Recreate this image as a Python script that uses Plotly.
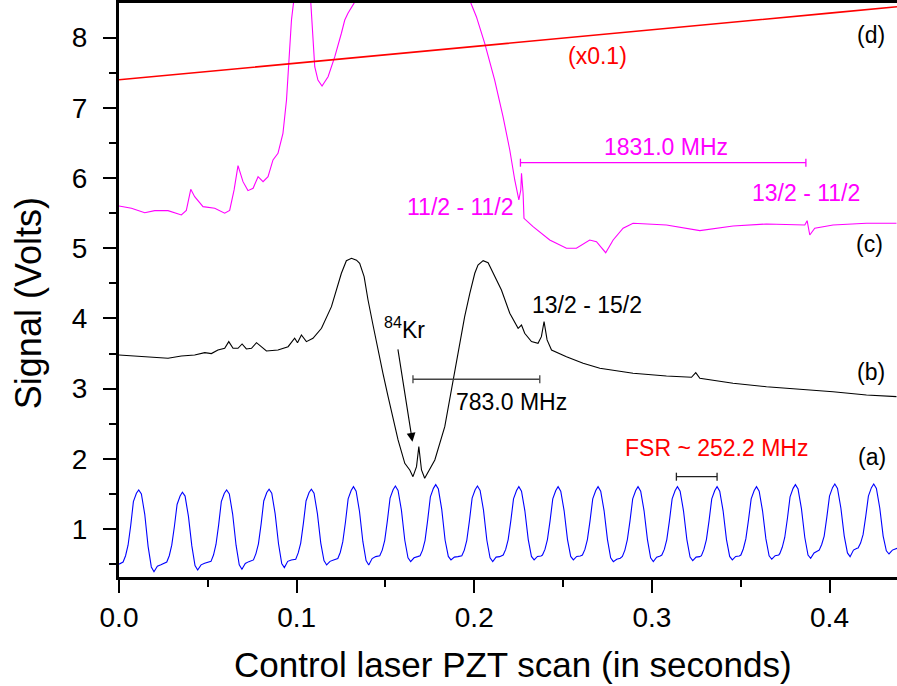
import plotly.graph_objects as go

# ---------------- data ----------------
# (a) cavity transmission fringes (blue), one row per fringe
a_t = [0.0000,
       0.0023, 0.0037, 0.0051, 0.0066, 0.0081, 0.0098, 0.0111, 0.0126, 0.0145, 0.0164, 0.0182, 0.0197, 0.0216, 0.0236,
       0.0269, 0.0283, 0.0297, 0.0312, 0.0327, 0.0344, 0.0357, 0.0372, 0.0391, 0.0410, 0.0428, 0.0443, 0.0462, 0.0482,
       0.0518, 0.0532, 0.0546, 0.0561, 0.0576, 0.0593, 0.0606, 0.0621, 0.0640, 0.0659, 0.0677, 0.0692, 0.0711, 0.0731,
       0.0757, 0.0771, 0.0785, 0.0800, 0.0815, 0.0832, 0.0845, 0.0860, 0.0879, 0.0898, 0.0916, 0.0931, 0.0950, 0.0970,
       0.0995, 0.1009, 0.1023, 0.1038, 0.1053, 0.1070, 0.1083, 0.1098, 0.1117, 0.1136, 0.1154, 0.1169, 0.1188, 0.1208,
       0.1232, 0.1246, 0.1260, 0.1275, 0.1290, 0.1307, 0.1320, 0.1335, 0.1354, 0.1373, 0.1391, 0.1406, 0.1425, 0.1445,
       0.1468, 0.1482, 0.1496, 0.1511, 0.1526, 0.1543, 0.1556, 0.1571, 0.1590, 0.1609, 0.1627, 0.1642, 0.1661, 0.1681,
       0.1695, 0.1709, 0.1723, 0.1738, 0.1753, 0.1770, 0.1783, 0.1798, 0.1817, 0.1836, 0.1854, 0.1869, 0.1888, 0.1908,
       0.1930, 0.1944, 0.1958, 0.1973, 0.1988, 0.2005, 0.2018, 0.2033, 0.2052, 0.2071, 0.2089, 0.2104, 0.2123, 0.2143,
       0.2163, 0.2177, 0.2191, 0.2206, 0.2221, 0.2238, 0.2251, 0.2266, 0.2285, 0.2304, 0.2322, 0.2337, 0.2356, 0.2376,
       0.2384, 0.2398, 0.2412, 0.2427, 0.2442, 0.2459, 0.2472, 0.2487, 0.2506, 0.2525, 0.2543, 0.2558, 0.2577, 0.2597,
       0.2609, 0.2623, 0.2637, 0.2652, 0.2667, 0.2684, 0.2697, 0.2712, 0.2731, 0.2750, 0.2768, 0.2783, 0.2802, 0.2822,
       0.2834, 0.2848, 0.2862, 0.2877, 0.2892, 0.2909, 0.2922, 0.2937, 0.2956, 0.2975, 0.2993, 0.3008, 0.3027, 0.3047,
       0.3056, 0.3070, 0.3084, 0.3099, 0.3114, 0.3131, 0.3144, 0.3159, 0.3178, 0.3197, 0.3215, 0.3230, 0.3249, 0.3269,
       0.3279, 0.3293, 0.3307, 0.3322, 0.3337, 0.3354, 0.3367, 0.3382, 0.3401, 0.3420, 0.3438, 0.3453, 0.3472, 0.3492,
       0.3501, 0.3515, 0.3529, 0.3544, 0.3559, 0.3576, 0.3589, 0.3604, 0.3623, 0.3642, 0.3660, 0.3675, 0.3694, 0.3714,
       0.3720, 0.3734, 0.3748, 0.3763, 0.3778, 0.3795, 0.3808, 0.3823, 0.3842, 0.3861, 0.3879, 0.3894, 0.3913, 0.3933,
       0.3942, 0.3956, 0.3970, 0.3985, 0.4000, 0.4017, 0.4030, 0.4045, 0.4064, 0.4083, 0.4101, 0.4116, 0.4135, 0.4155,
       0.4161, 0.4175, 0.4189, 0.4204, 0.4219, 0.4236, 0.4249, 0.4264, 0.4283, 0.4302, 0.4320, 0.4335, 0.4354, 0.4380]
a_v = [0.50,
       0.53, 0.62, 0.77, 1.05, 1.39, 1.51, 1.557, 1.50, 1.21, 0.75, 0.46, 0.393, 0.47, 0.49,
       0.53, 0.62, 0.77, 1.04, 1.35, 1.47, 1.524, 1.47, 1.18, 0.76, 0.48, 0.417, 0.49, 0.513,
       0.54, 0.63, 0.78, 1.06, 1.39, 1.51, 1.557, 1.50, 1.21, 0.77, 0.49, 0.427, 0.51, 0.536,
       0.56, 0.65, 0.79, 1.07, 1.40, 1.52, 1.567, 1.51, 1.22, 0.79, 0.51, 0.451, 0.54, 0.56,
       0.57, 0.66, 0.80, 1.08, 1.40, 1.52, 1.567, 1.51, 1.22, 0.80, 0.55, 0.489, 0.54, 0.56,
       0.58, 0.67, 0.82, 1.10, 1.43, 1.55, 1.604, 1.54, 1.25, 0.82, 0.55, 0.489, 0.58, 0.607,
       0.62, 0.70, 0.84, 1.12, 1.44, 1.56, 1.614, 1.55, 1.27, 0.84, 0.59, 0.536, 0.59, 0.607,
       0.62, 0.70, 0.84, 1.13, 1.46, 1.58, 1.633, 1.57, 1.28, 0.84, 0.61, 0.56, 0.60, 0.607,
       0.62, 0.70, 0.84, 1.12, 1.44, 1.56, 1.614, 1.55, 1.27, 0.84, 0.59, 0.536, 0.60, 0.607,
       0.63, 0.71, 0.85, 1.12, 1.43, 1.55, 1.604, 1.54, 1.26, 0.85, 0.61, 0.56, 0.61, 0.617,
       0.63, 0.71, 0.85, 1.12, 1.43, 1.55, 1.604, 1.54, 1.26, 0.85, 0.61, 0.56, 0.61, 0.617,
       0.63, 0.71, 0.85, 1.12, 1.43, 1.55, 1.604, 1.54, 1.26, 0.85, 0.59, 0.536, 0.57, 0.584,
       0.61, 0.70, 0.85, 1.12, 1.43, 1.55, 1.604, 1.54, 1.26, 0.85, 0.59, 0.536, 0.60, 0.617,
       0.63, 0.71, 0.85, 1.12, 1.43, 1.55, 1.604, 1.54, 1.26, 0.85, 0.60, 0.55, 0.60, 0.607,
       0.62, 0.71, 0.85, 1.12, 1.43, 1.55, 1.604, 1.54, 1.26, 0.85, 0.61, 0.56, 0.61, 0.617,
       0.63, 0.72, 0.86, 1.13, 1.43, 1.55, 1.604, 1.54, 1.26, 0.86, 0.62, 0.57, 0.62, 0.631,
       0.65, 0.74, 0.88, 1.15, 1.46, 1.58, 1.633, 1.57, 1.29, 0.88, 0.63, 0.584, 0.66, 0.688,
       0.70, 0.78, 0.90, 1.17, 1.47, 1.59, 1.642, 1.58, 1.30, 0.90, 0.66, 0.607, 0.70, 0.726,
       0.73, 0.80, 0.92, 1.18, 1.47, 1.59, 1.642, 1.58, 1.30, 0.90, 0.69, 0.645, 0.70, 0.726]

# (b) saturated absorption signal (black)
b_t = [0.0000, 0.0163, 0.0276, 0.0351, 0.0426, 0.0483, 0.0520, 0.0557, 0.0595, 0.0618,
       0.0642, 0.0670, 0.0693, 0.0717, 0.0746, 0.0774, 0.0802, 0.0830, 0.0895, 0.0952,
       0.0989, 0.1005, 0.1027, 0.1055, 0.1092, 0.1140, 0.1196, 0.1224, 0.1252, 0.1280,
       0.1309, 0.1337, 0.1355, 0.1380, 0.1402, 0.1430, 0.1458, 0.1486, 0.1515, 0.1543,
       0.1571, 0.1609, 0.1637, 0.1655, 0.1675, 0.1688, 0.1703, 0.1721, 0.1749, 0.1778,
       0.1834, 0.1890, 0.1918, 0.1946, 0.1975, 0.2003, 0.2021, 0.2050, 0.2078, 0.2115,
       0.2153, 0.2200, 0.2247, 0.2266, 0.2284, 0.2322, 0.2359, 0.2378, 0.2393, 0.2410,
       0.2435, 0.2519, 0.2613, 0.2707, 0.2894, 0.3082, 0.3223, 0.3247, 0.3270, 0.3457,
       0.3645, 0.3833, 0.4020, 0.4208, 0.4377]
b_v = [3.48, 3.456, 3.433, 3.466, 3.48, 3.513, 3.50, 3.551, 3.575, 3.670,
       3.575, 3.575, 3.637, 3.566, 3.575, 3.655, 3.59, 3.537, 3.551, 3.598,
       3.718, 3.655, 3.765, 3.67, 3.718, 3.86, 4.168, 4.406, 4.644, 4.823,
       4.857, 4.83, 4.786, 4.595, 4.263, 3.907, 3.551, 3.219, 2.886, 2.554,
       2.269, 1.937, 1.842, 1.746, 1.889, 2.174, 1.842, 1.723, 1.842, 1.984,
       2.459, 3.219, 3.646, 4.026, 4.358, 4.644, 4.762, 4.823, 4.795, 4.595,
       4.406, 4.074, 3.86, 3.907, 3.789, 3.67, 3.646, 3.741, 3.954, 3.694,
       3.551, 3.456, 3.362, 3.291, 3.219, 3.181, 3.162, 3.228, 3.148, 3.077,
       3.028, 2.991, 2.957, 2.91, 2.886]

# (c) signal (magenta); values above 8.5 run off the top of the frame
c_t = [0.0000, 0.0070, 0.0145, 0.0201, 0.0276, 0.0351, 0.0379, 0.0404, 0.0426, 0.0473,
       0.0539, 0.0595, 0.0623, 0.0648, 0.0670, 0.0698, 0.0726, 0.0755, 0.0783, 0.0811,
       0.0839, 0.0867, 0.0895, 0.0923, 0.0943, 0.0956, 0.0971, 0.0984, 0.1030, 0.1079,
       0.1089, 0.1102, 0.1120, 0.1143, 0.1177, 0.1215, 0.1252, 0.1271, 0.1289, 0.1323,
       0.1400, 0.1650, 0.1900, 0.1975, 0.2012, 0.2059, 0.2115, 0.2162, 0.2200, 0.2228,
       0.2251, 0.2262, 0.2266, 0.2275, 0.2280, 0.2331, 0.2425, 0.2519, 0.2575, 0.2650,
       0.2688, 0.2740, 0.2782, 0.2838, 0.2894, 0.3082, 0.3270, 0.3457, 0.3645, 0.3861,
       0.3874, 0.3889, 0.3917, 0.4020, 0.4208, 0.4377]
c_v = [5.603, 5.57, 5.507, 5.536, 5.536, 5.474, 5.54, 5.84, 5.735, 5.593,
       5.57, 5.499, 5.54, 5.831, 6.177, 5.949, 5.821, 5.855, 6.02, 5.949,
       6.02, 6.258, 6.353, 6.638, 7.113, 7.587, 8.252, 8.53, 9.60, 8.53,
       8.063, 7.587, 7.397, 7.312, 7.444, 7.729, 8.063, 8.252, 8.348, 8.49,
       9.20, 9.90, 9.10, 8.53, 8.299, 7.92, 7.397, 6.875, 6.4, 5.973,
       5.688, 5.83, 6.068, 5.783, 5.427, 5.308, 5.118, 5.0, 5.0, 5.118,
       5.094, 4.937, 5.118, 5.285, 5.356, 5.332, 5.251, 5.318, 5.346, 5.332,
       5.393, 5.189, 5.285, 5.332, 5.356, 5.356]

# (d) PZT ramp (red, x0.1)
d_t = [0.0, 0.05, 0.10, 0.15, 0.20, 0.25, 0.30, 0.35, 0.40, 0.438]
d_v = [7.40, 7.52, 7.64, 7.76, 7.88, 8.00, 8.12, 8.23, 8.35, 8.44]

# interval markers: (t_start, t_end, level)
fsr_bar = (0.3138, 0.3367, 1.746)
kr_bar = (0.1655, 0.2369, 3.134)
mag_bar = (0.2260, 0.3867, 6.219)
cap_half = 0.057

# text labels: (text, t, V, colour)
labels = [
    ("(d)", 0.4233, 8.038, "black"),
    ("(x0.1)", 0.2696, 7.739, "red"),
    ("1831.0 MHz", 0.3078, 6.443, "magenta"),
    ("11/2 - 11/2", 0.1925, 5.588, "magenta"),
    ("13/2 - 11/2", 0.3867, 5.787, "magenta"),
    ("(c)", 0.4227, 5.061, "black"),
    ("13/2 - 15/2", 0.2633, 4.192, "black"),
    ("(b)", 0.4233, 3.238, "black"),
    ("<sup>84</sup>Kr", 0.1609, 3.865, "black"),
    ("783.0 MHz", 0.2211, 2.811, "black"),
    ("FSR ~ 252.2 MHz", 0.3363, 2.155, "red"),
    ("(a)", 0.4238, 2.027, "black"),
]
kr_arrow_tail = (0.1569, 3.58)
kr_arrow_head = (0.1652, 2.245)

x_range = [0.0, 0.438]
y_range = [0.317, 8.494]
x_title = "Control laser PZT scan (in seconds)"
y_title = "Signal (Volts)"

FONT = "Arial, Liberation Sans, sans-serif"

fig = go.Figure()
fig.add_trace(go.Scatter(x=a_t, y=a_v, mode="lines", line=dict(color="#0000FF", width=1.1)))
fig.add_trace(go.Scatter(x=b_t, y=b_v, mode="lines", line=dict(color="black", width=1.1)))
fig.add_trace(go.Scatter(x=c_t, y=c_v, mode="lines", line=dict(color="#FF00FF", width=1.1)))
fig.add_trace(go.Scatter(x=d_t, y=d_v, mode="lines", line=dict(color="#FF0000", width=1.6)))

shapes = []
for (t0, t1, lv), col in [(fsr_bar, "#222222"), (kr_bar, "#444444"), (mag_bar, "#FF00FF")]:
    shapes.append(dict(type="line", xref="x", yref="y", x0=t0, x1=t1, y0=lv, y1=lv,
                       line=dict(color=col, width=1.3)))
    for tt in (t0, t1):
        shapes.append(dict(type="line", xref="x", yref="y", x0=tt, x1=tt,
                           y0=lv - cap_half, y1=lv + cap_half, line=dict(color=col, width=1.3)))

annotations = []
for txt, tx, vy, col in labels:
    annotations.append(dict(x=tx, y=vy, xref="x", yref="y", text=txt, showarrow=False,
                            xanchor="center", yanchor="middle",
                            font=dict(family=FONT, size=23, color=col)))
annotations.append(dict(x=kr_arrow_head[0], y=kr_arrow_head[1], xref="x", yref="y",
                        ax=kr_arrow_tail[0], ay=kr_arrow_tail[1], axref="x", ayref="y",
                        text="", showarrow=True, arrowhead=2, arrowsize=1.6,
                        arrowwidth=1.1, arrowcolor="black"))
annotations.append(dict(x=0.5064, y=-0.1516, xref="paper", yref="paper", text=x_title,
                        showarrow=False, xanchor="center", yanchor="middle",
                        font=dict(family=FONT, size=35, color="black")))
annotations.append(dict(x=-0.1170, y=0.477, xref="paper", yref="paper", text=y_title,
                        showarrow=False, xanchor="center", yanchor="middle", textangle=-90,
                        font=dict(family=FONT, size=36, color="black")))

fig.update_layout(
    width=897, height=686,
    margin=dict(l=119, r=0, t=3, b=109),
    paper_bgcolor="white", plot_bgcolor="white",
    showlegend=False, hovermode=False,
    shapes=shapes, annotations=annotations,
    font=dict(family=FONT, color="black"),
)
fig.update_xaxes(range=x_range, showgrid=False, zeroline=False,
                 showline=True, linecolor="black", linewidth=3, mirror=True,
                 ticks="outside", ticklen=13, tickwidth=2, tickcolor="black",
                 dtick=0.1, tick0=0, tickformat=".1f",
                 tickfont=dict(family=FONT, size=28, color="black"),
                 minor=dict(ticks="outside", dtick=0.05, tick0=0, ticklen=7,
                            tickwidth=2, tickcolor="black"))
fig.update_yaxes(range=y_range, showgrid=False, zeroline=False,
                 showline=True, linecolor="black", linewidth=3, mirror=False,
                 ticks="outside", ticklen=13, tickwidth=2, tickcolor="black",
                 dtick=1, tick0=0, ticklabelstandoff=10,
                 tickfont=dict(family=FONT, size=28, color="black"),
                 minor=dict(ticks="outside", dtick=0.5, tick0=0, ticklen=7,
                            tickwidth=2, tickcolor="black"))

fig.write_html("out.html")
